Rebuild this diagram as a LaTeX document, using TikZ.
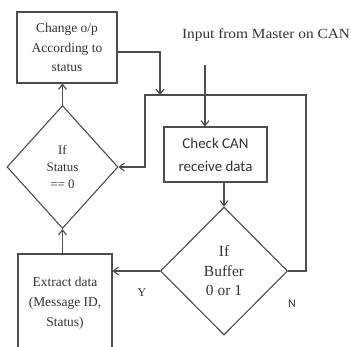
\documentclass[tikz,border=0pt]{standalone}
\usepackage{fontspec}
\setmainfont{Liberation Serif}
\newfontfamily\calfont{Carlito}
\usetikzlibrary{arrows.meta,shapes.geometric}
\definecolor{lc}{HTML}{4D4D4D}
\definecolor{tc}{HTML}{333333}
\begin{document}
\begin{tikzpicture}[x=1bp,y=-1bp,
  ln/.style={draw=lc, line width=1.1bp},
  arr/.style={draw=lc, line width=1.1bp, -{Straight Barb[length=5bp,width=8bp]}},
  box/.style={ln, rectangle, inner sep=0, align=center, text=tc},
  dia/.style={ln, diamond, inner sep=0, align=center, text=tc},
  lbl/.style={text=tc, inner sep=0}
]
\path[use as bounding box] (0,0) rectangle (351,347);
\clip (0,0) rectangle (351,347);
\node[box, minimum width=100bp, minimum height=71bp, font=\fontsize{13.5}{19.5}\selectfont] (change) at (67,47.5) {Change o/p\\According to\\status};
\node[lbl, font=\fontsize{14}{16}\selectfont] (input) at (266,35) {\scalebox{1.1}[1]{Input from Master on CAN}};
\node[box, font=\calfont\fontsize{15}{23}\selectfont, minimum width=103bp, minimum height=55bp] (check) at (215.5,154.5) {Check CAN\\receive data};
\node[dia, minimum width=111bp, minimum height=123bp, font=\fontsize{13}{17}\selectfont] (status) at (62.5,167) {If\\Status\\== 0};
\node[dia, minimum width=127bp, minimum height=128bp, font=\fontsize{15.5}{19.5}\selectfont] (buffer) at (224,271) {If\\Buffer\\0 or 1};
\node[box, minimum width=94bp, minimum height=98bp, font=\fontsize{13.5}{20}\selectfont] (extract) at (65,303) {Extract data\\(Message ID,\\Status)};
\node[lbl, font=\fontsize{12}{14}\selectfont] (ylab) at (142,293) {Y};
\node[lbl, font=\calfont\fontsize{12}{14}\selectfont] (nlab) at (292,304) {N};

\coordinate (inTop) at (205,65);
\coordinate (loopR) at (306,95);
\coordinate (loopL) at (145,95);
\coordinate (join) at (160,95);

\draw[arr] (inTop) -- (inTop |- check.north);
\draw[arr] (buffer.north |- check.south) -- (buffer.north);
\draw[arr] (status.north) -- (status.north |- change.south);
\draw[arr] (status.south |- extract.north) -- (status.south);
\draw[arr] (buffer.west) -- (buffer.west -| extract.east);
\draw[arr] (buffer.east) -| (loopR) -- (loopL) |- (status.east);
\draw[arr] ([yshift=-4.5bp]change.east) -| (join);
\end{tikzpicture}
\end{document}
